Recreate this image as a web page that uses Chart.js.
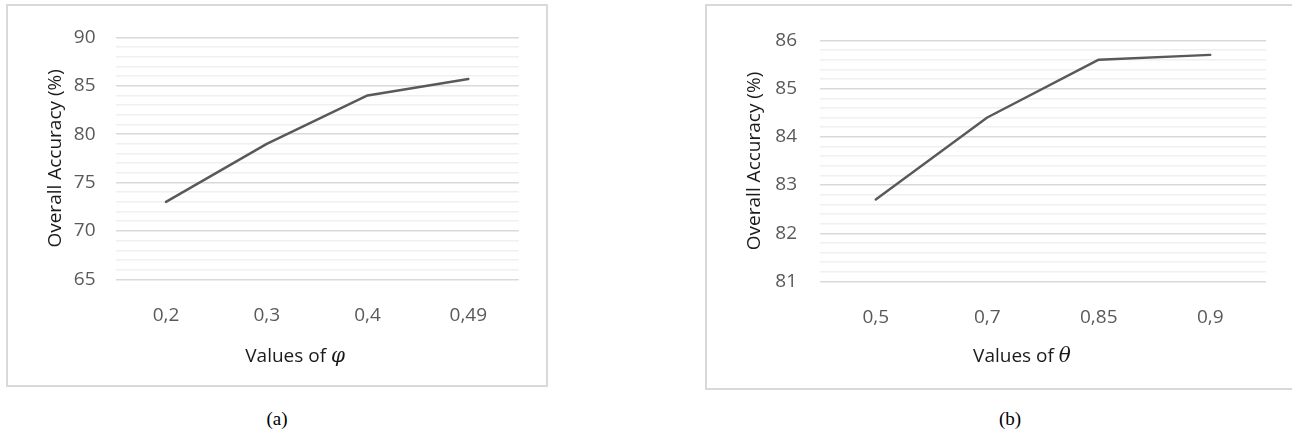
<!DOCTYPE html>
<html>
<head>
<meta charset="utf-8">
<script src="https://cdn.jsdelivr.net/npm/chart.js@4/dist/chart.umd.min.js"></script>
<style>
  html, body { margin: 0; padding: 0; background: #fff; }
  body { width: 1292px; height: 440px; overflow: hidden; position: relative; }
  .box { position: absolute; border: 2px solid #d9d9d9; background: #fff; overflow: hidden; }
  .box canvas { position: absolute; left: 0; top: 0; }
  .cap { position: absolute; width: 100px; text-align: center; font: 19px "Liberation Serif", serif; color: #000; }
</style>
</head>
<body>
<div class="box" id="boxA" style="left:6px; top:4px; width:538px; height:379px;">
  <canvas id="chartA" width="538" height="379"></canvas>
</div>
<div class="box" id="boxB" style="left:705px; top:4px; width:620px; height:382px;">
  <canvas id="chartB" width="600" height="382"></canvas>
</div>
<div class="cap" style="left:227px; top:408px;">(a)</div>
<div class="cap" style="left:960px; top:408px;">(b)</div>

<script>
// ---- data ----
const categoriesA = ['0,2', '0,3', '0,4', '0,49'];
const accuracyA   = [73, 79, 84, 85.7];
const yRangeA     = [65, 90];

const categoriesB = ['0,5', '0,7', '0,85', '0,9'];
const accuracyB   = [82.7, 84.4, 85.6, 85.7];
const yRangeB     = [81, 86];

const yTitle = 'Overall Accuracy (%)';
const xTitleA = ['Values of ', '\u03C6'];
const xTitleB = ['Values of ', '\u03B8'];

// ---- style ----
const FONT = '"Open Sans", "Noto Sans", sans-serif';
const TICK_COLOR = '#595959';
const TITLE_COLOR = '#1a1a1a';
const LINE_COLOR = '#595959';

const axisTitles = {
  id: 'axisTitles',
  afterDraw(chart, args, o) {
    const ctx = chart.ctx;
    const ca = chart.chartArea;
    ctx.save();
    ctx.fillStyle = TITLE_COLOR;
    // y title
    ctx.save();
    ctx.translate(o.yTitleX, (ca.top + ca.bottom) / 2);
    ctx.rotate(-Math.PI / 2);
    ctx.font = o.titleSize + 'px ' + FONT;
    ctx.textAlign = 'center';
    ctx.textBaseline = 'middle';
    ctx.fillText(o.yText, 0, 0);
    ctx.restore();
    // x title
    const f1 = o.titleSize + 'px ' + FONT;
    const f2 = 'italic ' + (o.titleSize + 1) + 'px "DejaVu Serif", "Liberation Serif", serif';
    ctx.font = f1; const w1 = ctx.measureText(o.xText[0]).width;
    ctx.font = f2; const w2 = ctx.measureText(o.xText[1]).width;
    let x = (ca.left + ca.right) / 2 + o.xShift - (w1 + w2) / 2;
    ctx.textAlign = 'left';
    ctx.textBaseline = 'middle';
    ctx.font = f1; ctx.fillText(o.xText[0], x, o.xTitleY);
    ctx.font = f2; ctx.fillText(o.xText[1], x + w1, o.xTitleY);
    ctx.restore();
  }
};

function isMajor(v, every) {
  const r = v / every;
  return Math.abs(r - Math.round(r)) < 1e-6;
}

function makeChart(id, cats, vals, range, step, major, geo) {
  return new Chart(document.getElementById(id), {
    type: 'line',
    data: {
      labels: cats,
      datasets: [{
        data: vals,
        borderColor: LINE_COLOR,
        borderWidth: 2.4,
        pointRadius: 0,
        pointHoverRadius: 0,
        tension: 0,
        fill: false,
        borderJoinStyle: 'round',
        borderCapStyle: 'round'
      }]
    },
    options: {
      responsive: false,
      animation: false,
      devicePixelRatio: 1,
      layout: { padding: { left: 0, top: geo.top, right: geo.right, bottom: 0 } },
      plugins: {
        legend: { display: false },
        tooltip: { enabled: false },
        axisTitles: {
          yText: yTitle, xText: geo.xText,
          yTitleX: geo.yTitleX, xTitleY: geo.xTitleY, xShift: geo.xShift,
          titleSize: geo.titleSize
        }
      },
      scales: {
        x: {
          offset: true,
          grid: { display: false, drawTicks: false },
          border: { display: false },
          ticks: { color: TICK_COLOR, font: { family: FONT, size: geo.tickSize }, padding: geo.xPad, maxRotation: 0 },
          afterFit(s) { s.height = geo.xHeight; }
        },
        y: {
          min: range[0], max: range[1],
          grid: {
            drawTicks: false,
            lineWidth: 1.5,
            color: (c) => isMajor(c.tick.value, major) ? '#d9d9d9' : '#f0f0f0'
          },
          border: { display: false },
          ticks: {
            stepSize: step,
            autoSkip: false,
            color: TICK_COLOR,
            font: { family: FONT, size: geo.tickSize },
            padding: geo.yPad,
            callback: (v) => isMajor(v, major) ? String(Math.round(v)) : ''
          },
          afterFit(s) { s.width = geo.yWidth; }
        }
      }
    },
    plugins: [axisTitles]
  });
}

makeChart('chartA', categoriesA, accuracyA, yRangeA, 1, 5, {
  top: 28.3, right: 27.3, xHeight: 105.7, yWidth: 107.6,
  tickSize: 19, titleSize: 19, xPad: 25, yPad: 20,
  yTitleX: 48, xTitleY: 351, xShift: -22, xText: xTitleA
});

makeChart('chartB', categoriesB, accuracyB, yRangeB, 0.2, 1, {
  top: 28, right: 41, xHeight: 106.5, yWidth: 113,
  tickSize: 19, titleSize: 19, xPad: 25, yPad: 23,
  yTitleX: 48, xTitleY: 351, xShift: -21, xText: xTitleB
});
</script>
</body>
</html>
